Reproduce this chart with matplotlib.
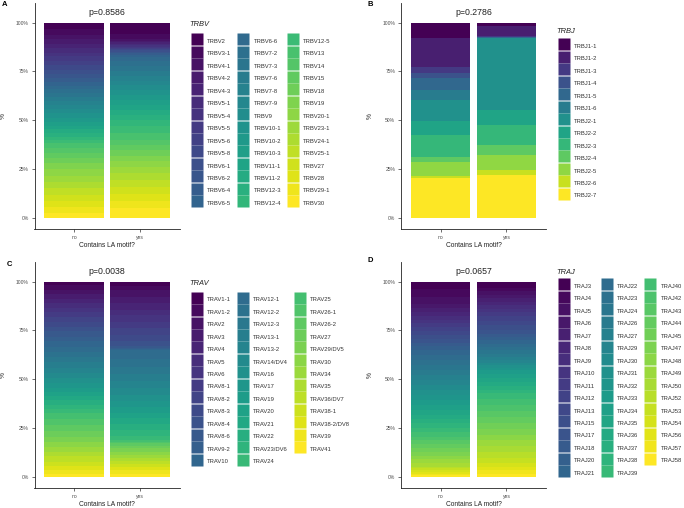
import numpy as np
import matplotlib
matplotlib.use('Agg')
import matplotlib.pyplot as plt
from matplotlib.lines import Line2D

plt.rcParams['font.family'] = ['Liberation Sans', 'DejaVu Sans']

groups = ['no', 'yes']

# TRBV usage (% of clonotypes), order as in the legend
trbv_genes = ['TRBV2', 'TRBV3-1', 'TRBV4-1', 'TRBV4-2', 'TRBV4-3', 'TRBV5-1', 'TRBV5-4',
              'TRBV5-5', 'TRBV5-6', 'TRBV5-8', 'TRBV6-1', 'TRBV6-2', 'TRBV6-4', 'TRBV6-5',
              'TRBV6-6', 'TRBV7-2', 'TRBV7-3', 'TRBV7-6', 'TRBV7-8', 'TRBV7-9', 'TRBV9',
              'TRBV10-1', 'TRBV10-2', 'TRBV10-3', 'TRBV11-1', 'TRBV11-2', 'TRBV12-3', 'TRBV12-4',
              'TRBV12-5', 'TRBV13', 'TRBV14', 'TRBV15', 'TRBV18', 'TRBV19', 'TRBV20-1',
              'TRBV23-1', 'TRBV24-1', 'TRBV25-1', 'TRBV27', 'TRBV28', 'TRBV29-1', 'TRBV30']
trbv_no = [3.5, 2.8, 2.0, 2.5, 2.0, 2.5, 2.0, 2.5, 2.0, 2.5, 2.0, 2.0, 1.8, 2.0,
           2.0, 1.9, 2.2, 1.8, 2.0, 2.2, 2.0, 2.5, 2.0, 1.8, 2.0, 1.9, 1.8, 1.6,
           1.7, 2.5, 2.7, 2.5, 2.5, 3.0, 3.5, 3.0, 3.3, 3.5, 3.0, 3.2, 2.8, 2.8]
trbv_yes = [6.0, 2.5, 0.8, 0.8, 0.7, 0.8, 0.7, 0.6, 0.7, 0.6, 0.7, 0.6, 0.9, 1.0,
            2.5, 2.3, 2.6, 2.4, 2.5, 2.3, 2.4, 2.6, 2.5, 2.6, 2.5, 2.6, 2.5, 3.5,
            3.4, 3.4, 2.5, 2.6, 3.0, 3.0, 3.0, 3.0, 3.6, 3.6, 3.6, 3.6, 3.6, 5.1]
trbv_p = 'p=0.8586'

# TRBJ usage
trbj_genes = ['TRBJ1-1', 'TRBJ1-2', 'TRBJ1-3', 'TRBJ1-4', 'TRBJ1-5', 'TRBJ1-6', 'TRBJ2-1',
              'TRBJ2-2', 'TRBJ2-3', 'TRBJ2-4', 'TRBJ2-5', 'TRBJ2-6', 'TRBJ2-7']
trbj_no = [7.7, 14.8, 3.1, 2.6, 6.3, 5.1, 10.6, 7.3, 11.1, 2.6, 7.3, 1.2, 20.4]
trbj_yes = [2.0, 5.1, 0.3, 0.2, 0.2, 0.2, 36.6, 7.7, 10.2, 5.1, 7.7, 2.6, 22.1]
trbj_p = 'p=0.2786'

# TRAV usage
trav_genes = ['TRAV1-1', 'TRAV1-2', 'TRAV2', 'TRAV3', 'TRAV4', 'TRAV5', 'TRAV6', 'TRAV8-1',
              'TRAV8-2', 'TRAV8-3', 'TRAV8-4', 'TRAV8-6', 'TRAV9-2', 'TRAV10', 'TRAV12-1',
              'TRAV12-2', 'TRAV12-3', 'TRAV13-1', 'TRAV13-2', 'TRAV14/DV4', 'TRAV16', 'TRAV17',
              'TRAV19', 'TRAV20', 'TRAV21', 'TRAV22', 'TRAV23/DV6', 'TRAV24', 'TRAV25',
              'TRAV26-1', 'TRAV26-2', 'TRAV27', 'TRAV29/DV5', 'TRAV30', 'TRAV34', 'TRAV35',
              'TRAV36/DV7', 'TRAV38-1', 'TRAV38-2/DV8', 'TRAV39', 'TRAV41']
trav_no = [2.0, 2.3, 2.2, 2.5, 2.2, 2.3, 2.2, 2.2, 2.6, 2.5, 2.5, 2.6, 2.5, 2.6,
           2.6, 2.8, 2.7, 2.7, 2.6, 2.7, 2.7, 2.2, 2.2, 2.1, 2.2, 2.2, 2.2, 2.2,
           3.0, 2.9, 3.0, 3.0, 2.6, 2.5, 2.6, 2.5, 2.6, 2.5, 2.0, 1.8, 1.7]
trav_yes = [2.3, 2.0, 3.5, 3.2, 3.3, 3.0, 3.4, 3.1, 3.3, 3.0, 3.0, 0.6, 0.6, 0.6,
            4.5, 4.0, 4.0, 3.5, 3.5, 3.5, 3.0, 3.0, 3.0, 3.0, 3.0, 3.0, 3.0, 2.0,
            0.8, 0.8, 1.2, 1.5, 1.8, 1.5, 1.5, 1.5, 1.5, 1.6, 1.6, 2.0, 1.7]
trav_p = 'p=0.0038'

# TRAJ usage
traj_genes = ['TRAJ3', 'TRAJ4', 'TRAJ5', 'TRAJ6', 'TRAJ7', 'TRAJ8', 'TRAJ9', 'TRAJ10',
              'TRAJ11', 'TRAJ12', 'TRAJ13', 'TRAJ15', 'TRAJ17', 'TRAJ18', 'TRAJ20', 'TRAJ21',
              'TRAJ22', 'TRAJ23', 'TRAJ24', 'TRAJ26', 'TRAJ27', 'TRAJ29', 'TRAJ30', 'TRAJ31',
              'TRAJ32', 'TRAJ33', 'TRAJ34', 'TRAJ35', 'TRAJ36', 'TRAJ37', 'TRAJ38', 'TRAJ39',
              'TRAJ40', 'TRAJ42', 'TRAJ43', 'TRAJ44', 'TRAJ45', 'TRAJ47', 'TRAJ48', 'TRAJ49',
              'TRAJ50', 'TRAJ52', 'TRAJ53', 'TRAJ54', 'TRAJ56', 'TRAJ57', 'TRAJ58']
traj_no = [4.0, 3.8, 3.6, 2.0, 2.0, 2.0, 2.0, 2.0, 1.9, 2.0, 1.9, 2.0, 2.0, 1.9, 2.0,
           2.5, 2.6, 2.5, 2.6, 2.5, 2.6, 2.5, 2.6, 2.5, 2.6, 2.5, 2.6,
           2.3, 2.2, 2.3, 2.3, 2.2, 2.3, 1.9, 1.9, 2.0, 1.9, 1.9, 1.9, 1.9, 1.9,
           0.9, 0.9, 0.9, 0.9, 0.9, 0.9]
traj_yes = [3.2, 1.8, 1.7, 1.8, 1.8, 1.8, 1.7, 1.8, 2.2, 2.2, 2.3, 2.2, 2.2, 1.7, 1.7,
            1.6, 1.7, 1.7, 1.7, 1.7, 1.7, 1.3, 1.3, 1.2, 1.3, 2.0, 2.0, 2.0, 2.0,
            2.0, 1.9, 3.0, 3.1, 3.1, 3.0, 3.1, 2.9, 2.9, 2.9, 3.0, 2.9, 2.9, 2.9,
            1.8, 1.8, 1.7, 1.8]
traj_p = 'p=0.0657'

W, H = 684, 508
fig = plt.figure(figsize=(W / 100, H / 100), dpi=100)


def add_axes_px(left, top, right, bottom):
    return fig.add_axes([left / W, 1 - bottom / H, (right - left) / W, (bottom - top) / H])


def draw_panel(ax, genes, no_vals, yes_vals, ptext, title, leg_xy, title_xy, letter, letter_xy):
    n = len(genes)
    colors = plt.cm.viridis(np.linspace(0, 1, n))
    vals = np.array([no_vals, yes_vals], dtype=float)
    fracs = vals / vals.sum(axis=1, keepdims=True)
    bottoms = 1 - np.cumsum(fracs, axis=1)
    x = np.arange(len(groups))
    for i in range(n):
        ax.bar(x, fracs[:, i], bottom=bottoms[:, i], width=0.9, color=colors[i], linewidth=0)

    ax.set_xlim(-0.6, 1.6)
    ax.set_ylim(-0.055, 1.10)
    ax.set_xticks(x)
    ax.set_xticklabels(groups)
    ax.set_yticks([0, 0.25, 0.5, 0.75, 1.0])
    ax.set_yticklabels(['0%', '25%', '50%', '75%', '100%'])
    for s in ['top', 'right']:
        ax.spines[s].set_visible(False)
    for s in ['left', 'bottom']:
        ax.spines[s].set_linewidth(0.6)
        ax.spines[s].set_color('#222222')
    ax.tick_params(length=2, width=0.5, color='#333333', labelcolor='#4d4d4d', labelsize=3.6, pad=2.2)
    ax.set_xlabel('Contains LA motif?', fontsize=4.8, color='#222222')
    ax.set_ylabel('%', fontsize=4.8, color='#222222')
    ax.xaxis.set_label_coords(0.5, -0.056)
    ax.yaxis.set_label_coords(-0.19, 0.5)
    ax.text(0.5, 1.05, ptext, ha='center', va='center', fontsize=6.3, color='#222222')

    handles = [Line2D([], [], marker='s', linestyle='none', markersize=8.6,
                      markerfacecolor=c, markeredgecolor='none') for c in colors]
    ncol = int(np.ceil(n / 20))
    fig.legend(handles, genes, loc='upper left', bbox_to_anchor=(leg_xy[0] / W, 1 - leg_xy[1] / H),
               bbox_transform=fig.transFigure, ncol=ncol, frameon=False, fontsize=4.2,
               borderpad=0, borderaxespad=0, handlelength=1.95, handleheight=2.526,
               labelspacing=0.249, handletextpad=0.8, columnspacing=1.0, numpoints=1,
               labelcolor='#333333')
    fig.text(title_xy[0] / W, 1 - title_xy[1] / H, title, fontsize=5.4, style='italic',
             ha='left', va='center', color='#222222')
    fig.text(letter_xy[0] / W, 1 - letter_xy[1] / H, letter, fontsize=5.5, fontweight='bold',
             ha='left', va='center')


axA = add_axes_px(34.5, 3, 179.5, 229)
axB = add_axes_px(401, 3, 546, 229)
axC = add_axes_px(34.5, 262, 179.5, 488)
axD = add_axes_px(401, 262, 546, 488)

draw_panel(axA, trbv_genes, trbv_no, trbv_yes, trbv_p, 'TRBV', (191.3, 35.7), (189.3, 25), 'A', (1.5, 5))
draw_panel(axB, trbj_genes, trbj_no, trbj_yes, trbj_p, 'TRBJ', (557.9, 40.7), (556.7, 31.5), 'B', (368, 5))
draw_panel(axC, trav_genes, trav_no, trav_yes, trav_p, 'TRAV', (191.3, 294), (189.3, 283.5), 'C', (7, 264))
draw_panel(axD, traj_genes, traj_no, traj_yes, traj_p, 'TRAJ', (557.9, 280.7), (556, 272), 'D', (368, 261))

fig.savefig('out.png', dpi=100)
